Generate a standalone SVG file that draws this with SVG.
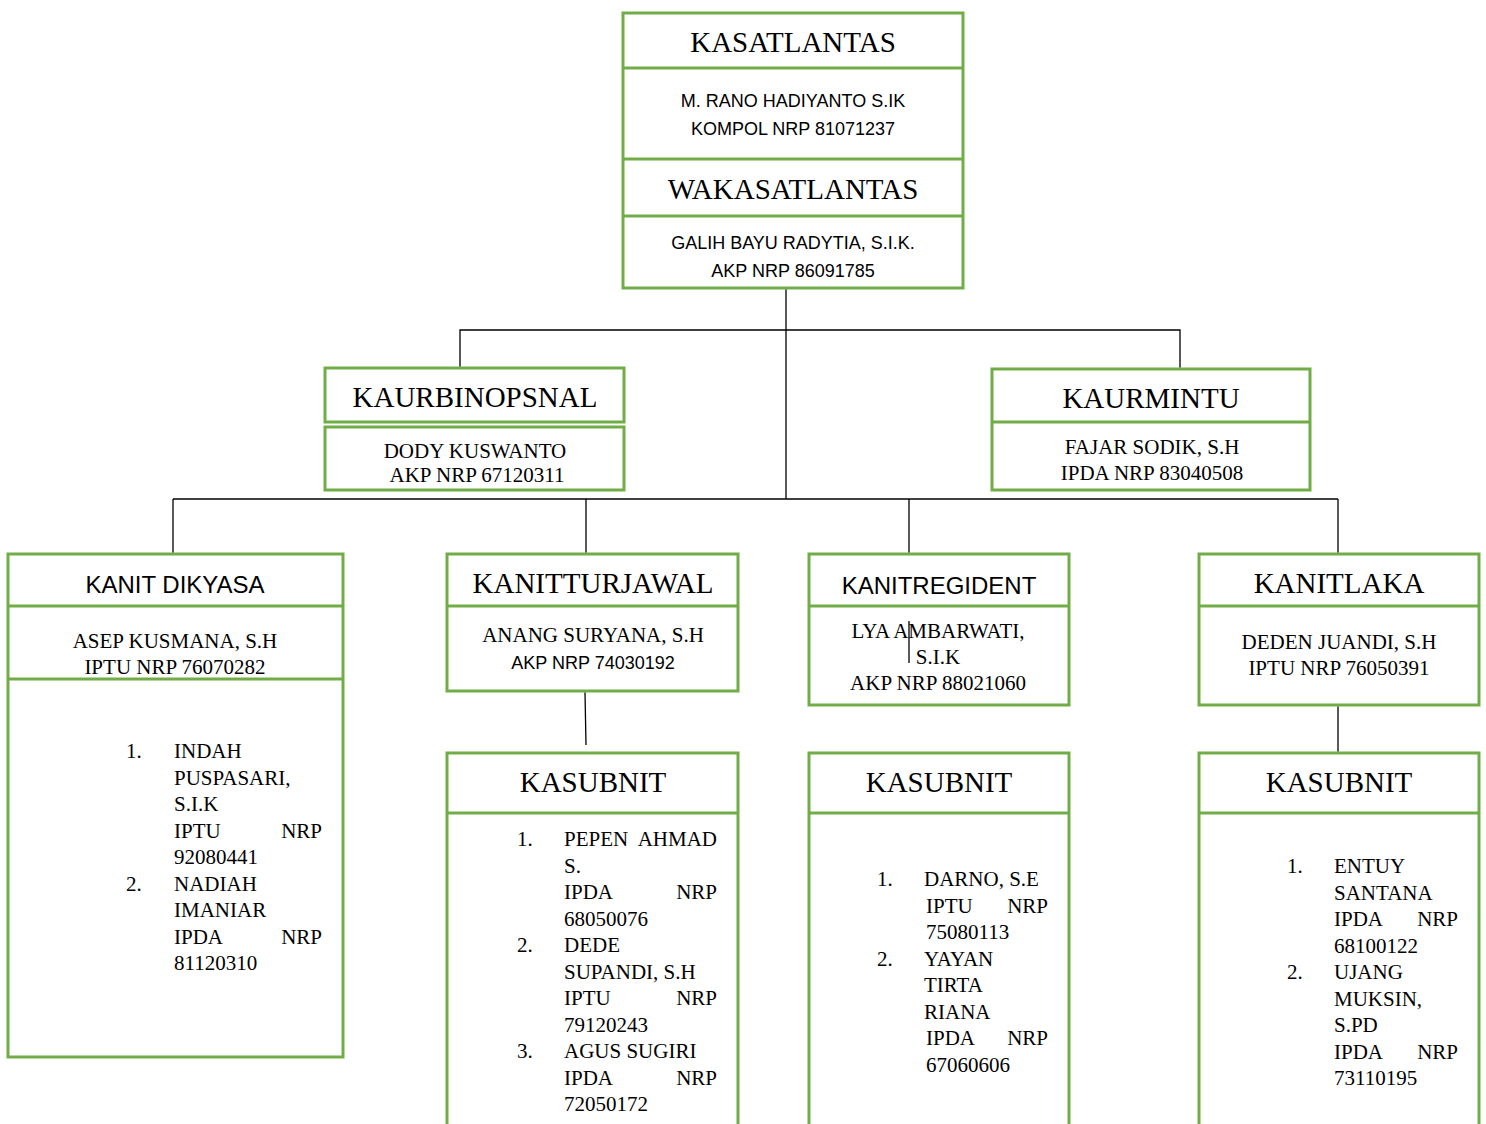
<svg xmlns="http://www.w3.org/2000/svg" width="1486" height="1124" viewBox="0 0 1486 1124">
<style>
.box{fill:#fff;stroke:#70AD47;stroke-width:3}
.div{stroke:#70AD47;stroke-width:3}
.con{stroke:#000;stroke-width:1.3;fill:none}
.t{font-family:"Liberation Serif","Times New Roman",serif;font-size:29px;fill:#000;text-anchor:middle}
.s{font-family:"Liberation Sans",Arial,sans-serif;font-size:18px;fill:#000;text-anchor:middle}
.ts{font-family:"Liberation Sans",Arial,sans-serif;font-size:24px;fill:#000;text-anchor:middle}
.n{font-family:"Liberation Serif","Times New Roman",serif;font-size:21px;fill:#000;text-anchor:middle}
.l{font-family:"Liberation Serif","Times New Roman",serif;font-size:21px;fill:#000}
.r{font-family:"Liberation Serif","Times New Roman",serif;font-size:21px;fill:#000;text-anchor:end}
</style>
<rect width="1486" height="1124" fill="#fff"/>
<g id="kasatlantas">
<rect class="box" x="623" y="13" width="340" height="275"/>
<line class="div" x1="623" y1="68" x2="963" y2="68"/>
<line class="div" x1="623" y1="159" x2="963" y2="159"/>
<line class="div" x1="623" y1="216" x2="963" y2="216"/>
<text class="t" x="793" y="52">KASATLANTAS</text>
<text class="s" x="793" y="106.5">M. RANO HADIYANTO S.IK</text>
<text class="s" x="793" y="134.5">KOMPOL NRP 81071237</text>
<text class="t" x="793" y="199">WAKASATLANTAS</text>
<text class="s" x="793" y="248.5">GALIH BAYU RADYTIA, S.I.K.</text>
<text class="s" x="793" y="276.5">AKP NRP 86091785</text>
</g>
<g id="kaurbinopsnal">
<rect class="box" x="325" y="368" width="299" height="54"/>
<rect class="box" x="325" y="427" width="299" height="63"/>
<text class="t" x="475" y="407">KAURBINOPSNAL</text>
<text class="n" x="475" y="458">DODY KUSWANTO</text>
<text class="n" x="477" y="482">AKP NRP 67120311</text>
</g>
<g id="kaurmintu">
<rect class="box" x="992" y="369" width="318" height="121"/>
<line class="div" x1="992" y1="422" x2="1310" y2="422"/>
<text class="t" x="1151" y="408">KAURMINTU</text>
<text class="n" x="1152" y="454">FAJAR SODIK, S.H</text>
<text class="n" x="1152" y="480">IPDA NRP 83040508</text>
</g>
<g id="kanit-dikyasa">
<rect class="box" x="8" y="554" width="335" height="503"/>
<line class="div" x1="8" y1="606" x2="343" y2="606"/>
<line class="div" x1="8" y1="679" x2="343" y2="679"/>
<text class="ts" x="175" y="593">KANIT DIKYASA</text>
<text class="n" x="175" y="648">ASEP KUSMANA, S.H</text>
<text class="n" x="175" y="674">IPTU NRP 76070282</text>
<text class="l" x="126" y="758">1.</text>
<text class="l" x="174" y="758">INDAH</text>
<text class="l" x="174" y="784.5">PUSPASARI,</text>
<text class="l" x="174" y="811">S.I.K</text>
<text class="l" x="174" y="837.5">IPTU</text><text class="r" x="322" y="837.5">NRP</text>
<text class="l" x="174" y="864">92080441</text>
<text class="l" x="126" y="890.5">2.</text>
<text class="l" x="174" y="890.5">NADIAH</text>
<text class="l" x="174" y="917">IMANIAR</text>
<text class="l" x="174" y="943.5">IPDA</text><text class="r" x="322" y="943.5">NRP</text>
<text class="l" x="174" y="970">81120310</text>
</g>
<g id="kanitturjawal">
<rect class="box" x="447" y="554" width="291" height="137"/>
<line class="div" x1="447" y1="606" x2="738" y2="606"/>
<text class="t" x="593" y="593">KANITTURJAWAL</text>
<text class="n" x="593" y="642">ANANG SURYANA, S.H</text>
<text class="s" x="593" y="668.5">AKP NRP 74030192</text>
</g>
<g id="kasubnit-turjawal">
<rect class="box" x="447" y="753" width="291" height="380"/>
<line class="div" x1="447" y1="813" x2="738" y2="813"/>
<text class="t" x="593" y="792">KASUBNIT</text>
<text class="l" x="517" y="846">1.</text>
<text class="l" x="564" y="846">PEPEN</text><text class="r" x="717" y="846">AHMAD</text>
<text class="l" x="564" y="872.5">S.</text>
<text class="l" x="564" y="899">IPDA</text><text class="r" x="717" y="899">NRP</text>
<text class="l" x="564" y="925.5">68050076</text>
<text class="l" x="517" y="952">2.</text>
<text class="l" x="564" y="952">DEDE</text>
<text class="l" x="564" y="978.5">SUPANDI, S.H</text>
<text class="l" x="564" y="1005">IPTU</text><text class="r" x="717" y="1005">NRP</text>
<text class="l" x="564" y="1031.5">79120243</text>
<text class="l" x="517" y="1058">3.</text>
<text class="l" x="564" y="1058">AGUS SUGIRI</text>
<text class="l" x="564" y="1084.5">IPDA</text><text class="r" x="717" y="1084.5">NRP</text>
<text class="l" x="564" y="1111">72050172</text>
</g>
<g id="kanitregident">
<rect class="box" x="809" y="554" width="260" height="151"/>
<line class="div" x1="809" y1="606" x2="1069" y2="606"/>
<text class="ts" x="939" y="594">KANITREGIDENT</text>
<text class="n" x="938" y="638">LYA AMBARWATI,</text>
<text class="n" x="938" y="664">S.I.K</text>
<text class="n" x="938" y="690">AKP NRP 88021060</text>
</g>
<g id="kasubnit-regident">
<rect class="box" x="809" y="753" width="260" height="380"/>
<line class="div" x1="809" y1="813" x2="1069" y2="813"/>
<text class="t" x="939" y="792">KASUBNIT</text>
<text class="l" x="877" y="886">1.</text>
<text class="l" x="924" y="886">DARNO, S.E</text>
<text class="l" x="926" y="912.5">IPTU</text><text class="r" x="1048" y="912.5">NRP</text>
<text class="l" x="926" y="939">75080113</text>
<text class="l" x="877" y="965.5">2.</text>
<text class="l" x="924" y="965.5">YAYAN</text>
<text class="l" x="924" y="992">TIRTA</text>
<text class="l" x="924" y="1018.5">RIANA</text>
<text class="l" x="926" y="1045">IPDA</text><text class="r" x="1048" y="1045">NRP</text>
<text class="l" x="926" y="1071.5">67060606</text>
</g>
<g id="kanitlaka">
<rect class="box" x="1199" y="554" width="280" height="151"/>
<line class="div" x1="1199" y1="606" x2="1479" y2="606"/>
<text class="t" x="1339" y="593">KANITLAKA</text>
<text class="n" x="1339" y="649">DEDEN JUANDI, S.H</text>
<text class="n" x="1339" y="675">IPTU NRP 76050391</text>
</g>
<g id="kasubnit-laka">
<rect class="box" x="1199" y="753" width="280" height="380"/>
<line class="div" x1="1199" y1="813" x2="1479" y2="813"/>
<text class="t" x="1339" y="792">KASUBNIT</text>
<text class="l" x="1287" y="873">1.</text>
<text class="l" x="1334" y="873">ENTUY</text>
<text class="l" x="1334" y="899.5">SANTANA</text>
<text class="l" x="1334" y="926">IPDA</text><text class="r" x="1458" y="926">NRP</text>
<text class="l" x="1334" y="952.5">68100122</text>
<text class="l" x="1287" y="979">2.</text>
<text class="l" x="1334" y="979">UJANG</text>
<text class="l" x="1334" y="1005.5">MUKSIN,</text>
<text class="l" x="1334" y="1032">S.PD</text>
<text class="l" x="1334" y="1058.5">IPDA</text><text class="r" x="1458" y="1058.5">NRP</text>
<text class="l" x="1334" y="1085">73110195</text>
</g>
<g id="connectors">
<line class="con" x1="786" y1="289.5" x2="786" y2="499"/>
<polyline class="con" points="460,366.5 460,330 1180,330 1180,367.5"/>
<line class="con" x1="173" y1="499" x2="1338" y2="499"/>
<line class="con" x1="173" y1="499" x2="173" y2="552.5"/>
<line class="con" x1="586" y1="499" x2="586" y2="552.5"/>
<line class="con" x1="909" y1="499" x2="909" y2="552.5"/>
<line class="con" x1="1338" y1="499" x2="1338" y2="552.5"/>
<line class="con" x1="585" y1="692.5" x2="586" y2="745"/>
<line class="con" x1="1338" y1="706.5" x2="1338" y2="751.5"/>
<line class="con" x1="909" y1="621" x2="909" y2="663"/>
</g>
</svg>
